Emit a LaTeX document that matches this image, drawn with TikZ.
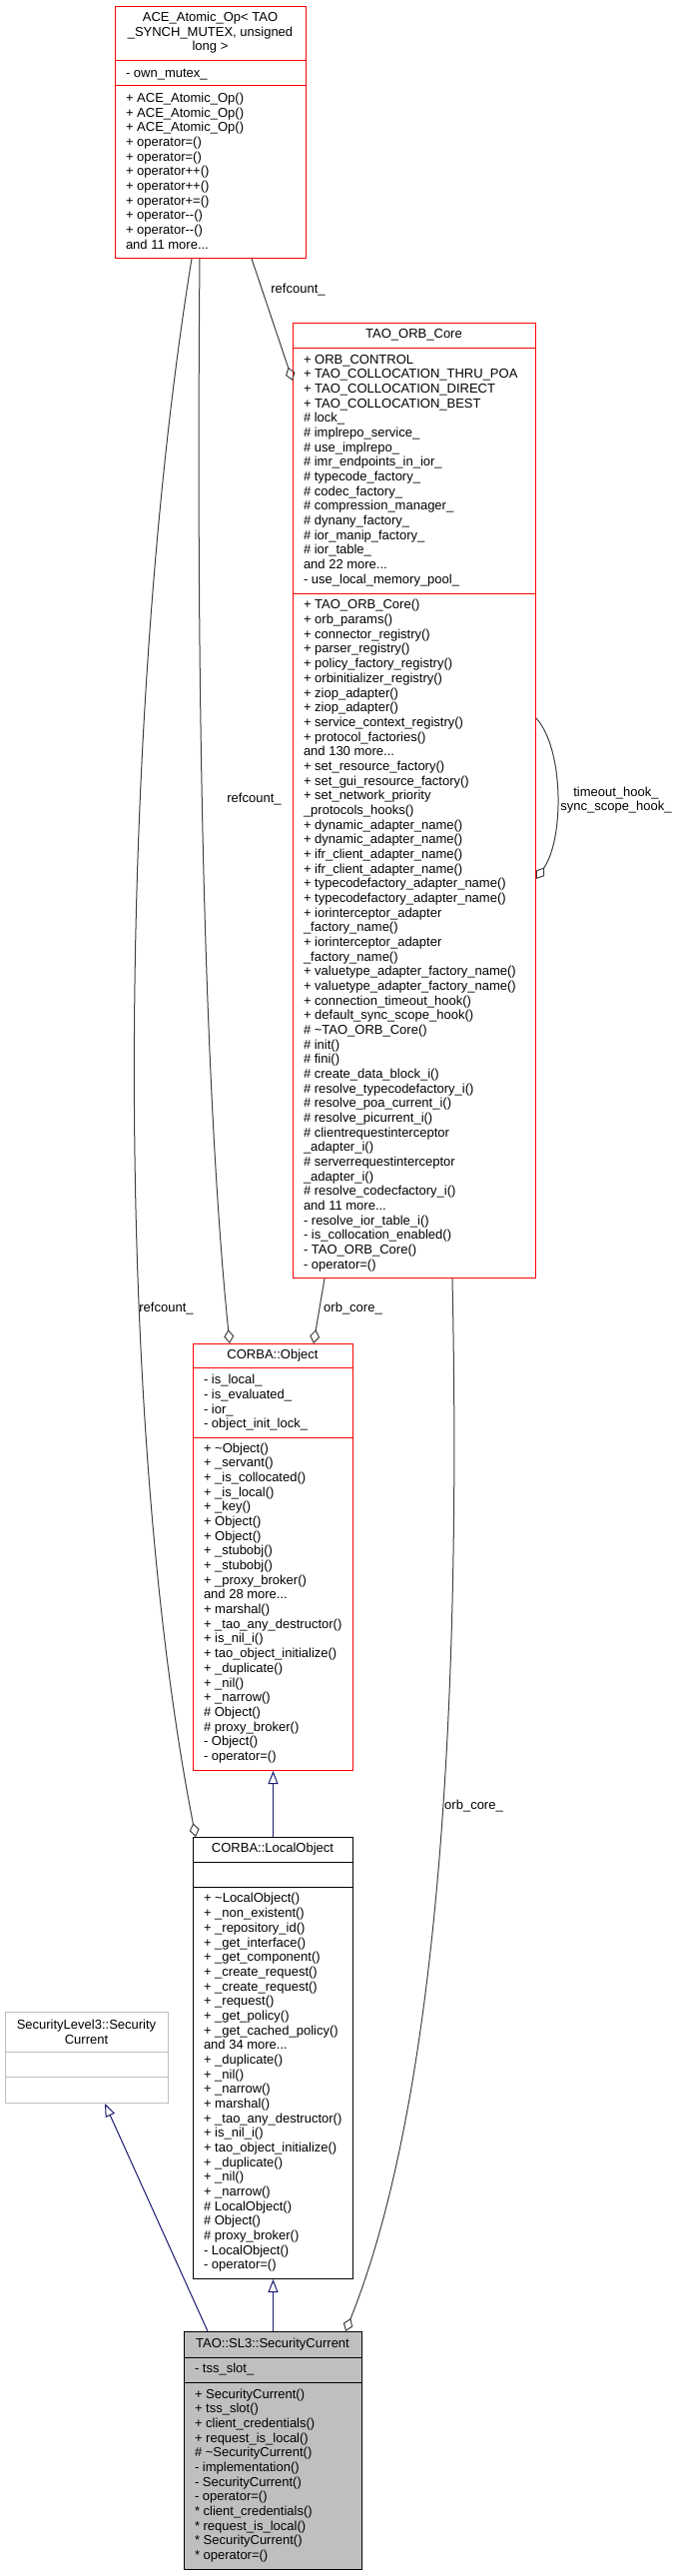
\documentclass[tikz,border=0pt]{standalone}
\usepackage{fontspec}
\setmainfont{Liberation Sans}
\usetikzlibrary{arrows.meta}
\definecolor{edgegray}{HTML}{404040}
\definecolor{inhblue}{HTML}{191970}
\definecolor{boxred}{HTML}{FF0000}
\definecolor{scfill}{HTML}{BFBFBF}
\definecolor{ltgray}{HTML}{BFBFBF}
\tikzset{
  classbox/.style={draw, line width=1pt, inner sep=0pt, anchor=north west},
  txt/.style={inner sep=0pt, outer sep=0pt, font=\fontsize{13}{14.67}\selectfont, align=left, anchor=north west},
  ttl/.style={inner sep=0pt, outer sep=0pt, font=\fontsize{13}{14.67}\selectfont, align=center, anchor=north},
  lbl/.style={inner sep=0pt, font=\fontsize{13}{14.67}\selectfont},
  aggr/.style={draw=edgegray, line width=1pt, -{Diamond[open, length=14pt, width=10pt]}},
  inh/.style={draw=inhblue, line width=1pt, -{Triangle[open, length=13pt, width=10pt]}},
}
\begin{document}
\begin{tikzpicture}[x=1pt,y=-1pt]
\fill[white] (0,0) rectangle (679,2579);
\useasboundingbox (0,0) rectangle (679,2579);

% ---------- ACE_Atomic_Op ----------
\node[classbox, draw=boxred, minimum width=191pt, minimum height=252pt] (ace) at (115,6) {};
\draw[boxred, line width=1pt] (115,61) -- (306,61) (115,86) -- (306,86);
\node[ttl] (acet) at (210.5,11.3) {\strut ACE\_Atomic\_Op< TAO\\\_SYNCH\_MUTEX, unsigned\\long >};
\node[txt] (acea) at (126,67) {\strut - own\_mutex\_};
\node[txt] (acem) at (126,92.3) {\strut + ACE\_Atomic\_Op()\\+ ACE\_Atomic\_Op()\\+ ACE\_Atomic\_Op()\\+ operator=()\\+ operator=()\\+ operator++()\\+ operator++()\\+ operator+=()\\+ operator-{}-()\\+ operator-{}-()\\and 11 more...};

% ---------- TAO_ORB_Core ----------
\node[classbox, draw=boxred, minimum width=243pt, minimum height=956pt] (orb) at (293,323) {};
\draw[boxred, line width=1pt] (293,348) -- (536,348) (293,594) -- (536,594);
\node[ttl] (orbt) at (414.5,328) {\strut TAO\_ORB\_Core};
\node[txt] (orba) at (304,354) {\strut + ORB\_CONTROL\\+ TAO\_COLLOCATION\_THRU\_POA\\+ TAO\_COLLOCATION\_DIRECT\\+ TAO\_COLLOCATION\_BEST\\\# lock\_\\\# implrepo\_service\_\\\# use\_implrepo\_\\\# imr\_endpoints\_in\_ior\_\\\# typecode\_factory\_\\\# codec\_factory\_\\\# compression\_manager\_\\\# dynany\_factory\_\\\# ior\_manip\_factory\_\\\# ior\_table\_\\and 22 more...\\- use\_local\_memory\_pool\_};
\node[txt] (orbm) at (304,599.7) {\strut + TAO\_ORB\_Core()\\+ orb\_params()\\+ connector\_registry()\\+ parser\_registry()\\+ policy\_factory\_registry()\\+ orbinitializer\_registry()\\+ ziop\_adapter()\\+ ziop\_adapter()\\+ service\_context\_registry()\\+ protocol\_factories()\\and 130 more...\\+ set\_resource\_factory()\\+ set\_gui\_resource\_factory()\\+ set\_network\_priority\\\_protocols\_hooks()\\+ dynamic\_adapter\_name()\\+ dynamic\_adapter\_name()\\+ ifr\_client\_adapter\_name()\\+ ifr\_client\_adapter\_name()\\+ typecodefactory\_adapter\_name()\\+ typecodefactory\_adapter\_name()\\+ iorinterceptor\_adapter\\\_factory\_name()\\+ iorinterceptor\_adapter\\\_factory\_name()\\+ valuetype\_adapter\_factory\_name()\\+ valuetype\_adapter\_factory\_name()\\+ connection\_timeout\_hook()\\+ default\_sync\_scope\_hook()\\\# \textasciitilde TAO\_ORB\_Core()\\\# init()\\\# fini()\\\# create\_data\_block\_i()\\\# resolve\_typecodefactory\_i()\\\# resolve\_poa\_current\_i()\\\# resolve\_picurrent\_i()\\\# clientrequestinterceptor\\\_adapter\_i()\\\# serverrequestinterceptor\\\_adapter\_i()\\\# resolve\_codecfactory\_i()\\and 11 more...\\- resolve\_ior\_table\_i()\\- is\_collocation\_enabled()\\- TAO\_ORB\_Core()\\- operator=()};

% ---------- CORBA::Object ----------
\node[classbox, draw=boxred, minimum width=160pt, minimum height=427pt] (obj) at (193,1345) {};
\draw[boxred, line width=1pt] (193,1369) -- (353,1369) (193,1439) -- (353,1439);
\node[ttl] (objt) at (273,1350) {\strut CORBA::Object};
\node[txt] (obja) at (204,1375.7) {\strut - is\_local\_\\- is\_evaluated\_\\- ior\_\\- object\_init\_lock\_};
\node[txt] (objm) at (204,1444) {\strut + \textasciitilde Object()\\+ \_servant()\\+ \_is\_collocated()\\+ \_is\_local()\\+ \_key()\\+ Object()\\+ Object()\\+ \_stubobj()\\+ \_stubobj()\\+ \_proxy\_broker()\\and 28 more...\\+ marshal()\\+ \_tao\_any\_destructor()\\+ is\_nil\_i()\\+ tao\_object\_initialize()\\+ \_duplicate()\\+ \_nil()\\+ \_narrow()\\\# Object()\\\# proxy\_broker()\\- Object()\\- operator=()};

% ---------- CORBA::LocalObject ----------
\node[classbox, draw=black, minimum width=160pt, minimum height=442pt] (lobj) at (193,1839) {};
\draw[black, line width=1pt] (193,1864) -- (353,1864) (193,1889) -- (353,1889);
\node[ttl] (lobjt) at (273,1844) {\strut CORBA::LocalObject};
\node[txt] (lobjm) at (204,1894.7) {\strut + \textasciitilde LocalObject()\\+ \_non\_existent()\\+ \_repository\_id()\\+ \_get\_interface()\\+ \_get\_component()\\+ \_create\_request()\\+ \_create\_request()\\+ \_request()\\+ \_get\_policy()\\+ \_get\_cached\_policy()\\and 34 more...\\+ \_duplicate()\\+ \_nil()\\+ \_narrow()\\+ marshal()\\+ \_tao\_any\_destructor()\\+ is\_nil\_i()\\+ tao\_object\_initialize()\\+ \_duplicate()\\+ \_nil()\\+ \_narrow()\\\# LocalObject()\\\# Object()\\\# proxy\_broker()\\- LocalObject()\\- operator=()};

% ---------- TAO::SL3::SecurityCurrent ----------
\node[classbox, draw=black, fill=scfill, minimum width=178pt, minimum height=238pt] (sc) at (184,2334) {};
\draw[black, line width=1pt] (184,2360) -- (362,2360) (184,2385) -- (362,2385);
\node[ttl] (sct) at (273,2340.7) {\strut TAO::SL3::SecurityCurrent};
\node[txt] (sca) at (195,2365.7) {\strut - tss\_slot\_};
\node[txt] (scm) at (195,2390.7) {\strut + SecurityCurrent()\\+ tss\_slot()\\+ client\_credentials()\\+ request\_is\_local()\\\# \textasciitilde SecurityCurrent()\\- implementation()\\- SecurityCurrent()\\- operator=()\\* client\_credentials()\\* request\_is\_local()\\* SecurityCurrent()\\* operator=()};

% ---------- SecurityLevel3::SecurityCurrent ----------
\node[classbox, draw=ltgray, minimum width=163pt, minimum height=91pt] (sl3) at (5,2014) {};
\draw[ltgray, line width=1pt] (5,2054) -- (168,2054) (5,2079) -- (168,2079);
\node[ttl] (sl3t) at (86.5,2021.3) {\strut SecurityLevel3::Security\\Current};

% ---------- inheritance ----------
\draw[inh] (lobj.north) -- (obj.south);
\draw[inh] (sc.north) -- (lobj.south);
\draw[inh] ([xshift=24pt]sc.north west) -- ([xshift=100pt]sl3.south west);

% ---------- aggregation ----------
\draw[aggr] ([xshift=137pt]ace.south west) -- ([yshift=-58pt]orb.north west);
\draw[aggr] ([xshift=85pt]ace.south west) .. controls (196,700) and (205,1100) .. ([xshift=37pt]obj.north west);
\draw[aggr] ([xshift=77pt]ace.south west) .. controls (120,700) and (110,1400) .. ([xshift=3pt]lobj.north west);
\draw[aggr] ([xshift=32pt]orb.south west) -- ([xshift=121pt]obj.north west);
\draw[aggr] ([xshift=160pt]orb.south west) .. controls (462,1700) and (440,2100) .. ([xshift=162pt]sc.north west);
\draw[aggr] ([yshift=-396pt]orb.north east) .. controls (565,750) and (565,840) .. ([yshift=-557pt]orb.north east);

% ---------- labels ----------
\node[lbl] (l1) at (298.5,290) {refcount\_};
\node[lbl] (l2) at (254.5,800) {refcount\_};
\node[lbl] (l3) at (166.5,1310) {refcount\_};
\node[lbl] (l4) at (353.5,1310) {orb\_core\_};
\node[lbl] (l5) at (474.5,1808) {orb\_core\_};
\node[ttl] (l6) at (617,787) {\strut timeout\_hook\_\\sync\_scope\_hook\_};
\end{tikzpicture}
\end{document}
